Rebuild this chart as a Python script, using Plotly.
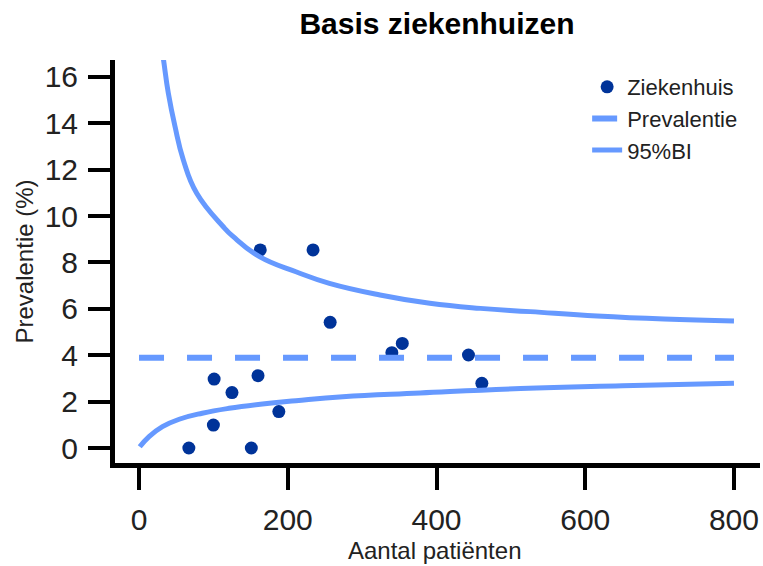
import plotly.graph_objects as go

# hospitals: number of patients and prevalence (%)
patients = [67, 100, 101, 125, 151, 160, 163, 188, 234, 257, 340, 354, 443, 461]
prevalence = [0.0, 0.99, 2.97, 2.39, 0.0, 3.12, 8.54, 1.57, 8.54, 5.42, 4.11, 4.51, 4.01, 2.79]

# overall prevalence
prev_x = [0, 800]
prev_y = [3.89, 3.89]

# 95% BI curves
upper_n = [32, 33.6, 39.4, 48.4, 59.6, 77.6, 113.3, 126.8, 162, 211, 256, 324, 391, 459, 526, 616, 706, 800]
upper_y = [16.95, 16.59, 15.30, 13.86, 12.42, 10.98, 9.54, 9.11, 8.25, 7.6, 7.1, 6.6, 6.24, 6.02, 5.88, 5.69, 5.56, 5.48]
lower_n = [1, 13.5, 31.5, 54, 85, 121, 166, 211, 274, 378, 513, 650, 800]
lower_y = [0.05, 0.49, 0.92, 1.24, 1.50, 1.71, 1.90, 2.04, 2.21, 2.37, 2.56, 2.68, 2.79]

x_ticks = [0, 200, 400, 600, 800]
y_ticks = [0, 2, 4, 6, 8, 10, 12, 14, 16]

line_col = "#6699FF"
dot_col = "#003399"
font = "Liberation Sans, Arial, sans-serif"

fig = go.Figure()
fig.add_trace(go.Scatter(x=patients, y=prevalence, mode="markers", name="Ziekenhuis",
                         marker=dict(color=dot_col, size=13)))
fig.add_trace(go.Scatter(x=prev_x, y=prev_y, mode="lines", name="Prevalentie",
                         line=dict(color=line_col, width=6, dash="25px,23px")))
fig.add_trace(go.Scatter(x=upper_n, y=upper_y, mode="lines", name="95%BI", legendgroup="bi",
                         line=dict(color=line_col, width=5, shape="spline", smoothing=1.3)))
fig.add_trace(go.Scatter(x=lower_n, y=lower_y, mode="lines", name="95%BI", legendgroup="bi",
                         showlegend=False,
                         line=dict(color=line_col, width=5, shape="spline", smoothing=1.3)))

axis_common = dict(showgrid=False, zeroline=False, showline=True, linecolor="black", linewidth=5,
                   ticks="outside", tickcolor="black", tickwidth=4, ticklen=22,
                   tickfont=dict(family=font, size=30, color="#222"))

fig.update_xaxes(range=[-32.3, 835], tickvals=x_ticks, ticklabelstandoff=4, **axis_common)
fig.update_yaxes(range=[-0.647, 16.73], tickvals=y_ticks, ticklabelstandoff=4, **axis_common)

fig.update_layout(
    width=763, height=566,
    margin=dict(l=115, r=3, t=60, b=103),
    plot_bgcolor="white", paper_bgcolor="white",
    font=dict(family=font, color="#222"),
    title=dict(text="<b>Basis ziekenhuizen</b>", font=dict(family=font, size=30, color="black"),
               xref="container", x=437 / 763, xanchor="center",
               yref="container", y=1 - 23 / 566, yanchor="middle"),
    legend=dict(x=0.732, y=0.985, xanchor="left", yanchor="top", bgcolor="rgba(0,0,0,0)",
                font=dict(family=font, size=22, color="#222"), tracegroupgap=0),
    annotations=[
        dict(text="Aantal patiënten", xref="paper", yref="paper", x=0.496, y=0, yshift=-87,
             showarrow=False, yanchor="middle", font=dict(family=font, size=24, color="#222")),
        dict(text="Prevalentie (%)", xref="paper", yref="paper", x=0, y=0.5, xshift=-91,
             textangle=-90, showarrow=False, xanchor="center", yanchor="middle",
             font=dict(family=font, size=24, color="#222")),
    ],
)

# drop the default page margin so the figure sits at the window corner
fig.write_html("out.html", config={"displayModeBar": False},
               post_script="document.body.style.margin='0';")
